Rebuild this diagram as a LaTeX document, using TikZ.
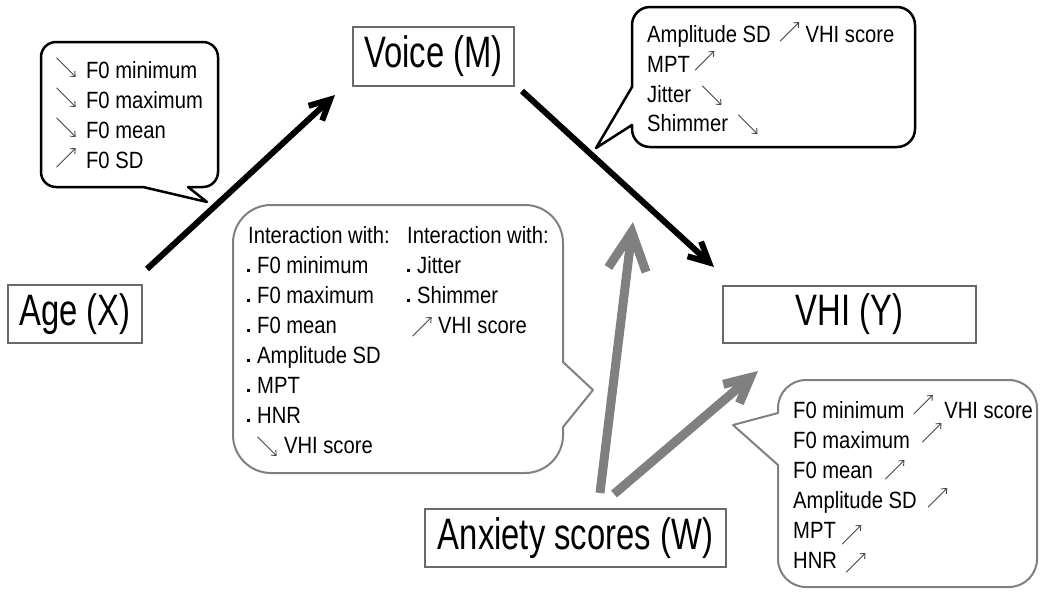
\documentclass[tikz,border=0pt]{standalone}
\usepackage{fontspec}
\setmainfont{Liberation Sans}
\newfontfamily\lblfont[FakeStretch=0.745]{Liberation Sans}
\newfontfamily\txtfont[FakeStretch=0.86]{Liberation Sans}
\usetikzlibrary{arrows.meta}
\definecolor{arrgray}{RGB}{128,128,128}
\definecolor{boxgray}{RGB}{105,105,105}
\definecolor{glyphc}{RGB}{70,70,70}
\newcommand{\uparr}{\tikz[baseline=0pt]\draw[glyphc,line width=0.9pt,line cap=round,-{Straight Barb[length=4pt,width=7pt]}] (0pt,1pt) -- (19pt,20pt);}
\newcommand{\dnarr}{\tikz[baseline=0pt]\draw[glyphc,line width=0.9pt,line cap=round,-{Straight Barb[length=4pt,width=7pt]}] (0pt,20pt) -- (19pt,1pt);}
\newcommand{\bul}{\makebox[10pt][l]{\raisebox{1pt}{\rule{3pt}{3pt}}}}
\begin{document}
\begin{tikzpicture}[x=1pt,y=-1pt,
  lbl/.style={draw=boxgray,line width=1.3pt,inner sep=0pt,font=\lblfont\fontsize{44}{52}\selectfont},
  txt/.style={anchor=base west,inner sep=0pt,font=\txtfont\fontsize{23.5}{28}\selectfont},
  blackarr/.style={line width=6pt,line cap=butt,-{Straight Barb[length=20pt,width=20pt]}},
  grayarr/.style={draw=arrgray,line width=9pt,line cap=butt},
  blackcall/.style={draw=black,line width=2.5pt,fill=white,line join=round},
  graycall/.style={draw=arrgray,line width=2pt,fill=white,line join=round}]
\useasboundingbox (0,0) rectangle (1040,592);

% boxes
\node[lbl,minimum width=134pt,minimum height=58pt] (age) at (75,314) {Age (X)};
\node[lbl,minimum width=161pt,minimum height=59pt] (voice) at (433.5,56.5) {Voice (M)};
\node[lbl,minimum width=253pt,minimum height=57pt] (vhi) at (849.5,314.5) {VHI (Y)};
\node[lbl,minimum width=301pt,minimum height=58pt] (anx) at (575.5,538) {Anxiety scores (W)};

% callout top-left
\draw[blackcall] (56,42) -- (203,42) arc[start angle=270,end angle=360,radius=15]
  -- (218,172) arc[start angle=0,end angle=90,radius=15]
  -- (188,187) -- (207,202) -- (143,187) -- (56,187)
  arc[start angle=90,end angle=180,radius=15] -- (41,57)
  arc[start angle=180,end angle=270,radius=15] -- cycle;
% callout top-right
\draw[blackcall] (650,7) -- (897,7) arc[start angle=270,end angle=360,radius=18]
  -- (915,129) arc[start angle=0,end angle=90,radius=18]
  -- (650,147) arc[start angle=90,end angle=180,radius=18]
  -- (632,125) -- (596,148) -- (632,87) -- (632,25)
  arc[start angle=180,end angle=270,radius=18] -- cycle;
% callout middle
\draw[graycall] (271,205) -- (525,205) arc[start angle=270,end angle=360,radius=38]
  -- (563,362) -- (593,390) -- (563,427) -- (563,435)
  arc[start angle=0,end angle=90,radius=38]
  -- (271,473) arc[start angle=90,end angle=180,radius=38]
  -- (233,243) arc[start angle=180,end angle=270,radius=38] -- cycle;
% callout bottom-right
\draw[graycall] (806,380) -- (1009,380) arc[start angle=270,end angle=360,radius=28]
  -- (1037,559) arc[start angle=0,end angle=90,radius=28]
  -- (806,587) arc[start angle=90,end angle=180,radius=28]
  -- (778,465) -- (733,425) -- (778,413) -- (778,408)
  arc[start angle=180,end angle=270,radius=28] -- cycle;

% arrows
\coordinate (a1s) at (147,269); \coordinate (a1e) at (335,95);
\coordinate (a2s) at (522,91);  \coordinate (a2e) at (714,267);
\coordinate (g1s) at (600,493); \coordinate (g1e) at (633,222);
\coordinate (g2s) at (614,494); \coordinate (g2e) at (758,371);
\draw[blackarr] (a1s) -- (a1e);
\draw[blackarr] (a2s) -- (a2e);
\draw[grayarr,-{Straight Barb[length=38pt,width=38pt]}] (g1s) -- (g1e);
\draw[grayarr,-{Straight Barb[length=25pt,width=25pt]}] (g2s) -- (g2e);

% texts top-left
\node[txt] (tl1) at (56,78) {\dnarr\hspace{10pt}F0 minimum};
\node[txt] (tl2) at (56,108) {\dnarr\hspace{10pt}F0 maximum};
\node[txt] (tl3) at (56,138) {\dnarr\hspace{10pt}F0 mean};
\node[txt] (tl4) at (56,168) {\uparr\hspace{10pt}F0 SD};
% texts top-right
\node[txt] (tr1) at (647,42) {Amplitude SD\hspace{9pt}\uparr\hspace{6pt}VHI score};
\node[txt] (tr2) at (647,72) {MPT\hspace{5pt}\raisebox{1pt}{\uparr}};
\node[txt] (tr3) at (647,102) {Jitter\hspace{11pt}\raisebox{-4pt}{\dnarr}};
\node[txt] (tr4) at (647,131) {Shimmer\hspace{10pt}\raisebox{-4pt}{\dnarr}};
% texts middle
\node[txt] (m1) at (248,243) {Interaction with:};
\node[txt] (m2) at (247,273) {\bul F0 minimum};
\node[txt] (m3) at (247,303) {\bul F0 maximum};
\node[txt] (m4) at (247,333) {\bul F0 mean};
\node[txt] (m5) at (247,363) {\bul Amplitude SD};
\node[txt] (m6) at (247,393) {\bul MPT};
\node[txt] (m7) at (247,423) {\bul HNR};
\node[txt] (m8) at (257,453) {\raisebox{-4pt}{\dnarr}\hspace{7pt}VHI score};
\node[txt] (n1) at (407,243) {Interaction with:};
\node[txt] (n2) at (407,273) {\bul Jitter};
\node[txt] (n3) at (407,303) {\bul Shimmer};
\node[txt] (n4) at (412,333) {\raisebox{-4pt}{\uparr}\hspace{6pt}VHI score};
% texts bottom-right
\node[txt] (b1) at (793,418) {F0 minimum\hspace{9pt}\raisebox{3pt}{\uparr}\hspace{11pt}VHI score};
\node[txt] (b2) at (793,448) {F0 maximum\hspace{12pt}\raisebox{5pt}{\uparr}};
\node[txt] (b3) at (793,478) {F0 mean\hspace{12pt}\raisebox{-2pt}{\uparr}};
\node[txt] (b4) at (793,508) {Amplitude SD\hspace{11pt}\uparr};
\node[txt] (b5) at (793,538) {MPT\hspace{6pt}\raisebox{-7pt}{\uparr}};
\node[txt] (b6) at (793,568) {HNR\hspace{9pt}\raisebox{-5pt}{\uparr}};
\end{tikzpicture}
\end{document}
